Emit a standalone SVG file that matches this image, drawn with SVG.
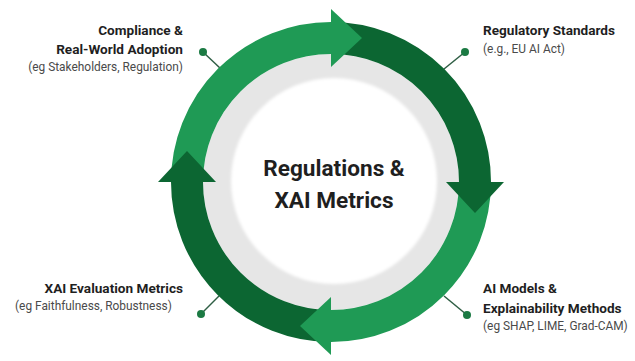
<svg xmlns="http://www.w3.org/2000/svg" width="635" height="361" viewBox="0 0 635 361">
<defs>
<style>
.t{font-family:Roboto,"Liberation Sans",Arial,sans-serif;font-weight:700;font-size:13.6px;fill:#1f1f1f}
.s{font-family:Roboto,"Liberation Sans",Arial,sans-serif;font-weight:400;font-size:11.9px;fill:#4a4a4a}
.c{font-family:Roboto,"Liberation Sans",Arial,sans-serif;font-weight:700;font-size:22.6px;fill:#1f1f1f}
.lt{fill:none;stroke:#1f9a55;stroke-width:32}
.dk{fill:none;stroke:#0c6632;stroke-width:32}
.ln{stroke:#2f5e44;stroke-width:1.5}
.dot{fill:#1b7a43}
</style>
<filter id="soft" x="-20%" y="-20%" width="140%" height="140%"><feGaussianBlur stdDeviation="1.5"/></filter>
</defs>
<rect width="635" height="361" fill="#ffffff"/>
<g id="connectors">
<line class="ln" x1="203" y1="52" x2="221" y2="69"/>
<line class="ln" x1="465" y1="52" x2="444" y2="69"/>
<line class="ln" x1="201" y1="314" x2="219" y2="296"/>
<line class="ln" x1="467" y1="315" x2="444" y2="296"/>
<circle class="dot" cx="203" cy="52" r="4"/>
<circle class="dot" cx="465" cy="52" r="4"/>
<circle class="dot" cx="201" cy="314" r="4"/>
<circle class="dot" cx="467" cy="315" r="4"/>
</g>
<g id="hub">
<circle cx="331" cy="182" r="128" fill="#e6e6e6"/>
<circle cx="334" cy="181" r="103" fill="#ffffff" filter="url(#soft)"/>
<text class="c" x="334" y="176" text-anchor="middle">Regulations &amp;</text>
<text class="c" x="334" y="208" text-anchor="middle">XAI Metrics</text>
</g>
<g id="cycle">
<path class="dk" d="M331,38 A144,144 0 0 1 475,182"/>
<path class="lt" d="M475,182 A144,144 0 0 1 331,326"/>
<path class="dk" d="M331,326 A144,144 0 0 1 187,182"/>
<path class="lt" d="M187,182 A144,144 0 0 1 331,38"/>
<polygon fill="#1f9a55" points="331,9 362,38 331,67"/>
<polygon fill="#0c6632" points="446,182 504,182 475,213"/>
<polygon fill="#1f9a55" points="331,297 331,355 300,326"/>
<polygon fill="#0c6632" points="216,182 158,182 187,151"/>
</g>
<g id="n-compliance">
<text class="t" x="183" y="35" text-anchor="end">Compliance &amp;</text>
<text class="t" x="183" y="54" text-anchor="end">Real-World Adoption</text>
<text class="s" x="183" y="71" text-anchor="end">(eg Stakeholders, Regulation)</text>
</g>
<g id="n-regulatory">
<text class="t" x="483" y="35">Regulatory Standards</text>
<text class="s" x="483" y="53">(e.g., EU AI Act)</text>
</g>
<g id="n-xai-eval">
<text class="t" x="183" y="293" text-anchor="end">XAI Evaluation Metrics</text>
<text class="s" x="15" y="310">(eg Faithfulness, Robustness)</text>
</g>
<g id="n-models">
<text class="t" x="483" y="293">AI Models &amp;</text>
<text class="t" x="483" y="313">Explainability Methods</text>
<text class="s" x="483" y="330">(eg SHAP, LIME, Grad-CAM)</text>
</g>
</svg>
